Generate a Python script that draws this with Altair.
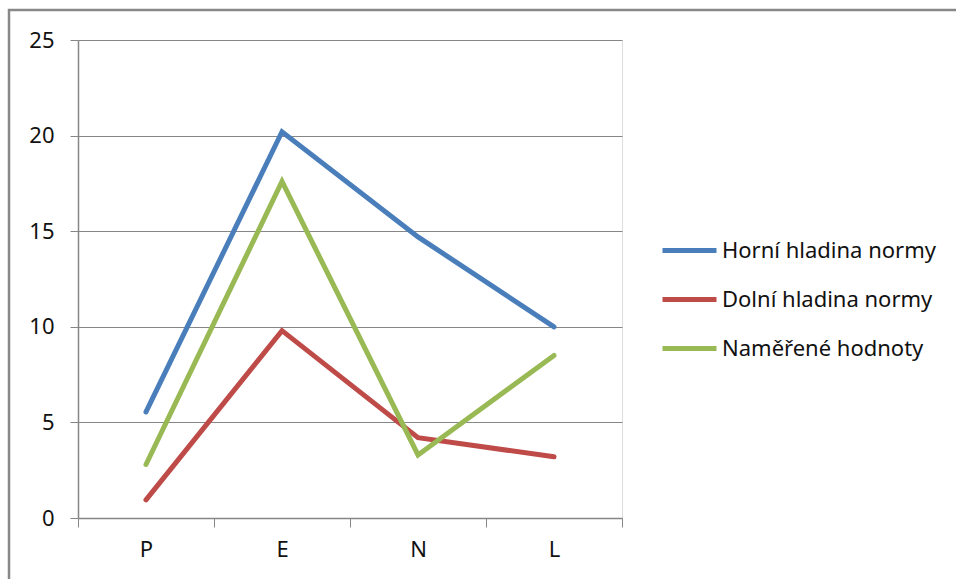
import altair as alt
import pandas as pd

categories = ["P", "E", "N", "L"]
series_names = ["Horní hladina normy", "Dolní hladina normy", "Naměřené hodnoty"]
horni = [5.55, 20.2, 14.7, 10.0]
dolni = [0.95, 9.8, 4.2, 3.2]
namerene = [2.8, 17.6, 3.3, 8.5]
colors = ["#4A7EBB", "#BE4B48", "#98B954"]

rows = []
for name, vals in zip(series_names, [horni, dolni, namerene]):
    for c, v in zip(categories, vals):
        rows.append({"kategorie": c, "serie": name, "hodnota": v})
df = pd.DataFrame(rows)

FONT = "Noto Sans"
GRID = "#868686"

lines = alt.Chart(df).mark_line(strokeWidth=5, strokeCap="round", strokeJoin="miter").encode(
    x=alt.X("kategorie:O", sort=categories, bandPosition=0.5,
            scale=alt.Scale(type="band", paddingInner=0, paddingOuter=0),
            axis=alt.Axis(title=None, labelAngle=0, tickBand="extent", grid=False,
                          domainColor=GRID, tickColor=GRID, tickSize=9, domainWidth=1.5,
                          labelFont=FONT, labelFontSize=22, labelColor="#111111",
                          labelPadding=12, labelFontWeight="normal")),
    y=alt.Y("hodnota:Q", scale=alt.Scale(domain=[0, 25]),
            axis=alt.Axis(title=None, values=[0, 5, 10, 15, 20, 25], grid=True, gridColor=GRID,
                          gridWidth=1.2, domainColor=GRID, tickColor=GRID, tickSize=8,
                          domainWidth=1.5, labelFont=FONT, labelFontSize=22,
                          labelColor="#111111", labelPadding=16)),
    color=alt.Color("serie:N", sort=series_names,
                    scale=alt.Scale(domain=series_names, range=colors),
                    legend=alt.Legend(title=None, orient="none", legendX=582, legendY=181,
                                      symbolType="stroke", symbolSize=2916, symbolStrokeWidth=5,
                                      labelFont=FONT, labelFontSize=22, labelColor="#111111",
                                      labelOffset=3, rowPadding=8, labelLimit=0)),
    order=alt.value(0),
)

border = alt.Chart(pd.DataFrame({"a": [0]})).mark_rect(
    fill=None, stroke="#888888", strokeWidth=2.5
).encode(x=alt.value(-69), y=alt.value(-30), x2=alt.value(1000), y2=alt.value(700))

chart = alt.layer(border, lines).properties(
    width=544, height=478,
    autosize=alt.AutoSizeParams(type="none"),
    padding={"left": 78, "top": 40, "right": 334, "bottom": 61},
).configure_view(stroke=None).configure(background="white")

chart.save("out.html", embed_options={"renderer": "svg", "actions": False})
